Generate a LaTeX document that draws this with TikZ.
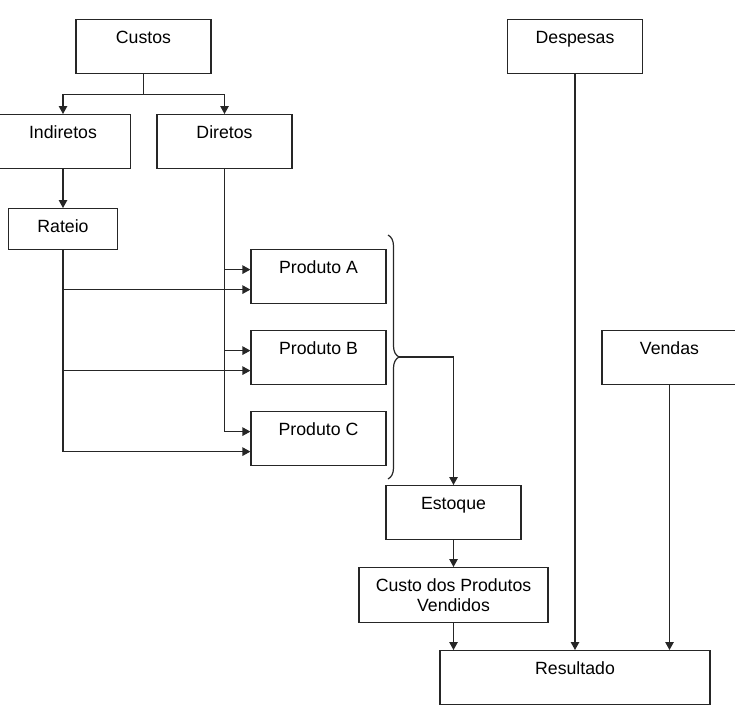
\documentclass[tikz,border=0pt]{standalone}
\usepackage{fontspec}
\setmainfont{Liberation Sans}
\usetikzlibrary{arrows.meta,decorations.pathreplacing}
\tikzset{
  caixa/.style={draw, rectangle, anchor=north, minimum width=135pt, inner ysep=0pt,
    text height=23.5pt, text depth=30.5pt, align=center},
  seta/.style={-{Triangle[length=8pt,width=8.5pt]}}
}
\begin{document}
\begin{tikzpicture}[x=1pt, y=-1pt, line width=1.2pt, draw=black!85, font=\fontsize{17.7}{20}\selectfont]
				\useasboundingbox (0,0) rectangle (735,718);
				% caixas
				\node[caixa] (custos) at (143.5,19) {Custos};
				\node[caixa] (indiretos) at (63,114) {Indiretos};
				\node[caixa] (diretos) at (224.5,114) {Diretos};
				\node[caixa, minimum width=109pt, text depth=17.5pt] (rateio) at (63,208) {Rateio};
				\node[caixa] (prodA) at (318.5,249) {Produto A};
				\node[caixa] (prodB) at (318.5,330) {Produto B};
				\node[caixa] (prodC) at (318.5,411) {Produto C};
				\node[caixa] (estoque) at (453.5,485) {Estoque};
				\node[caixa, minimum width=189pt, text height=43.5pt, text depth=11.5pt] (cpv) at (453.5,567) {Custo dos Produtos\\Vendidos};
				\node[caixa, minimum width=270pt] (resultado) at (575,650) {Resultado};
				\node[caixa] (despesas) at (575,19) {Despesas};
				\node[caixa] (vendas) at (669.5,330) {Vendas};
				% ligacoes
				\draw[seta] (custos.south) -- ++(0,20) -| (indiretos.north);
				\draw[seta] (custos.south) -- ++(0,20) -| (diretos.north);
				\draw[seta] (indiretos.south) -- (rateio.north);
				\foreach \p in {prodA,prodB,prodC}{
					\draw[seta] (diretos.south) |- ([yshift=7pt]\p.west);
					\draw[seta] (rateio.south) |- ([yshift=-13pt]\p.west);
				}
				\draw[decorate, decoration={brace, amplitude=11pt}] (388,235) -- (388,479);
				\coordinate (chave) at (399,357);
				\draw[seta] (chave) -| (estoque.north);
				\draw[seta] (estoque.south) -- (cpv.north);
				\draw[seta] (cpv.south) -- (cpv.south |- resultado.north);
				\draw[seta] (despesas.south) -- (resultado.north);
				\draw[seta] (vendas.south) -- (vendas.south |- resultado.north);
			\end{tikzpicture}
\end{document}
